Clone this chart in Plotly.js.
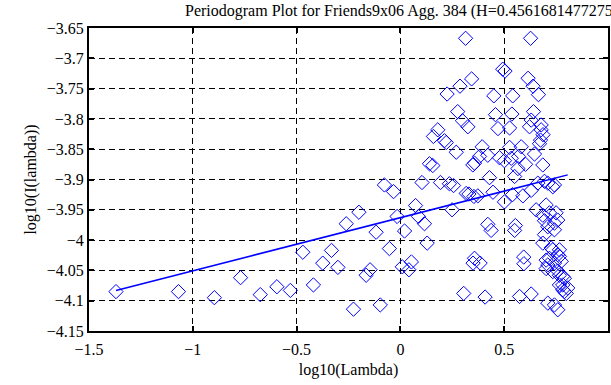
<!DOCTYPE html>
<html>
<head>
<meta charset="utf-8">
<script src="https://cdn.plot.ly/plotly-3.0.1.min.js"></script>
<style>html,body{margin:0;padding:0;background:#fff;}#chart{width:611px;height:385px;}</style>
</head>
<body>
<div id="chart"></div>
<script>
// log10(Lambda) values of the periodogram points
const logLambda = [
-1.370,-1.069,-0.896,-0.770,-0.675,-0.595,-0.530,-0.470,-0.419,-0.374,
-0.332,-0.301,-0.261,-0.200,-0.226,-0.165,-0.146,-0.117,-0.097,-0.077,
-0.033,-0.053,-0.016,0.020,0.009,0.053,0.041,0.073,0.087,0.116,
0.104,0.129,0.140,0.156,0.159,0.180,0.193,0.212,0.225,0.236,
0.256,0.249,0.269,0.276,0.287,0.299,0.305,0.314,0.317,0.325,
0.343,0.349,0.357,0.350,0.384,0.373,0.381,0.394,0.408,0.421,
0.421,0.429,0.437,0.446,0.450,0.458,0.470,0.477,0.493,0.504,
0.501,0.501,0.526,0.526,0.534,0.541,0.537,0.540,0.550,0.554,
0.550,0.569,0.566,0.574,0.582,0.590,0.594,0.595,0.603,0.615,
0.622,0.627,0.630,0.630,0.630,0.639,0.641,0.646,0.654,0.662,
0.665,0.678,0.675,0.670,0.686,0.686,0.686,0.694,0.694,0.687,
0.702,0.710,0.702,0.702,0.710,0.710,0.718,0.718,0.710,0.726,
0.734,0.734,0.734,0.742,0.742,0.742,0.742,0.742,0.750,0.758,
0.758,0.758,0.758,0.766,0.766,0.766,0.766,0.775,0.782,0.782,
0.782,0.790,0.790,0.799,0.806,0.694,0.678,0.354,0.330,0.357,
0.221
];
// log10(I(lambda)) values of the periodogram points
const logI = [
-4.085,-4.085,-4.095,-4.062,-4.090,-4.077,-4.083,-4.020,-4.074,-4.038,
-4.017,-4.045,-3.973,-3.954,-4.114,-4.058,-4.049,-3.987,-4.107,-3.909,
-3.920,-4.014,-3.961,-3.985,-4.044,-4.036,-4.049,-3.943,-3.961,-3.973,
-3.905,-4.005,-3.874,-3.877,-3.829,-3.818,-3.905,-3.836,-3.759,-3.907,
-3.910,-3.950,-3.855,-3.788,-3.746,-3.803,-4.088,-3.667,-3.923,-3.813,
-3.734,-3.876,-4.030,-4.038,-4.038,-3.927,-3.862,-3.846,-4.094,-3.860,
-3.974,-3.897,-3.984,-3.921,-3.762,-3.793,-3.816,-3.864,-3.718,-3.721,
-3.869,-3.937,-3.815,-3.847,-3.865,-3.762,-3.792,-3.925,-3.895,-3.976,
-3.984,-3.862,-3.882,-4.093,-3.846,-3.927,-4.028,-4.039,-3.875,-3.733,
-3.813,-3.667,-3.802,-3.918,-4.089,-3.746,-3.788,-3.858,-3.950,-3.906,
-3.760,-3.818,-3.835,-3.841,-3.876,-4.005,-3.959,-3.903,-3.968,-3.826,
-3.942,-3.906,-4.033,-4.047,-3.978,-4.104,-3.955,-4.030,-4.041,-4.013,
-3.912,-4.016,-4.052,-3.909,-3.972,-3.983,-4.038,-4.107,-3.955,-3.967,
-4.024,-4.051,-4.115,-4.016,-4.027,-4.058,-4.074,-4.035,-4.060,-4.074,
-4.082,-4.063,-4.085,-4.088,-4.079,-3.991,-3.810,-3.928,-3.924,-3.873,
-3.839
];
// Hurst estimate and fitted intercept of the regression line
const hurst = 0.45616814772757;
const fitIntercept = -3.963;
const fitSlope = 1 - 2 * hurst;

const xMin = Math.min(...logLambda), xMax = Math.max(...logLambda);
const fitX = [xMin, xMax];
const fitY = fitX.map(v => fitIntercept + fitSlope * v);

const serif = 'Liberation Serif, Times New Roman, serif';

const traces = [
  {x: logLambda, y: logI, type: 'scatter', mode: 'markers',
   marker: {symbol: 'diamond-open', size: 11, color: '#0000ff', line: {width: 1, color: '#0000ff'}},
   showlegend: false, hoverinfo: 'none'},
  {x: fitX, y: fitY, type: 'scatter', mode: 'lines',
   line: {color: '#0000ff', width: 1.5}, showlegend: false, hoverinfo: 'none'}
];

const axisCommon = {
  showline: true, linecolor: '#000', linewidth: 2, mirror: 'ticks',
  ticks: 'inside', ticklen: 5, tickwidth: 2, tickcolor: '#000',
  showgrid: true, gridcolor: '#000', gridwidth: 1, griddash: '6px,4px',
  zeroline: false, tickfont: {family: serif, size: 16, color: '#000'}
};

const layout = {
  width: 611, height: 385,
  margin: {l: 89, r: 3, t: 28, b: 54, pad: 0},
  paper_bgcolor: '#fff', plot_bgcolor: '#fff',
  title: {text: 'Periodogram Plot for Friends9x06 Agg. 384 (H=' + hurst + ')',
          font: {family: serif, size: 16, color: '#000'},
          xref: 'container', x: 185 / 611, xanchor: 'left',
          yref: 'container', y: 1 - 10 / 385, yanchor: 'middle'},
  xaxis: Object.assign({}, axisCommon, {
    range: [-1.5, 1], dtick: 0.5, tick0: -1.5, ticklabelstandoff: 3,
    title: {text: 'log10(Lambda)', font: {family: serif, size: 16, color: '#000'}, standoff: 7}
  }),
  yaxis: Object.assign({}, axisCommon, {
    range: [-4.15, -3.65], dtick: 0.05, tick0: -4.15,
    title: {text: 'log10(I(lambda))', font: {family: serif, size: 16, color: '#000'}, standoff: 6}
  })
};

Plotly.newPlot('chart', traces, layout, {staticPlot: true, displayModeBar: false});
</script>
</body>
</html>
